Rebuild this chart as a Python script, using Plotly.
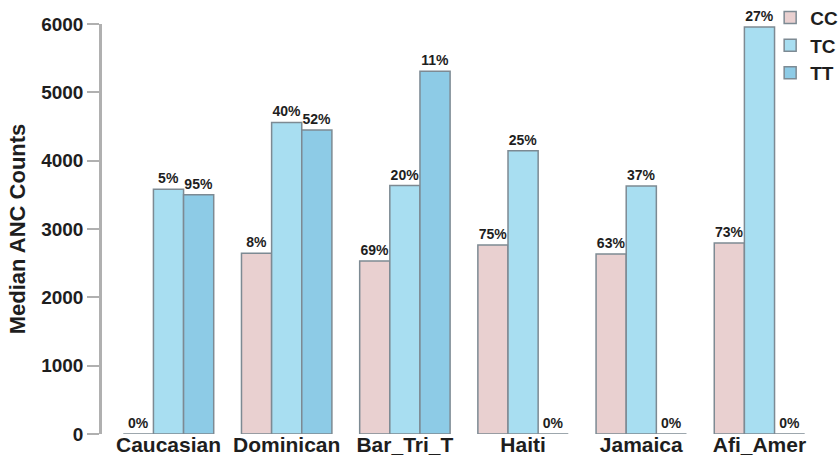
import plotly.graph_objects as go

categories = ["Caucasian", "Dominican", "Bar_Tri_T", "Haiti", "Jamaica", "Afi_Amer"]
genotypes = ["CC", "TC", "TT"]
cc_values = [0, 2645, 2530, 2765, 2635, 2795]
tc_values = [3580, 4560, 3635, 4145, 3630, 5955]
tt_values = [3500, 4450, 5310, 0, 0, 0]
cc_pct = ["0%", "8%", "69%", "75%", "63%", "73%"]
tc_pct = ["5%", "40%", "20%", "25%", "37%", "27%"]
tt_pct = ["95%", "52%", "11%", "0%", "0%", "0%"]
y_ticks = [0, 1000, 2000, 3000, 4000, 5000, 6000]

colors = {"CC": "#e9d0d0", "TC": "#a8def1", "TT": "#8dcbe6"}
series = {"CC": (cc_values, cc_pct), "TC": (tc_values, tc_pct), "TT": (tt_values, tt_pct)}
FONT = "Liberation Sans, Arial"
INK = "#1e1e1e"

fig = go.Figure()
for g in genotypes:
    vals, pct = series[g]
    fig.add_trace(go.Bar(
        x=categories, y=vals, name=g, text=pct,
        textposition="outside", constraintext="none", cliponaxis=False,
        textfont=dict(family=FONT, size=14, color=INK, weight="bold"),
        marker=dict(color=colors[g], line=dict(color="#7d8a93", width=1.5)),
    ))

fig.update_layout(
    width=855, height=459,
    margin=dict(l=102, r=33, t=24, b=25, autoexpand=False),
    paper_bgcolor="white", plot_bgcolor="white",
    barmode="group", bargap=0.235, bargroupgap=0,
    font=dict(family=FONT, color=INK),
    showlegend=True,
    legend=dict(x=0.928, y=1.062, xanchor="left", yanchor="top",
                font=dict(family=FONT, size=19, color=INK, weight="bold"),
                bgcolor="rgba(0,0,0,0)", tracegroupgap=0, itemwidth=30),
    xaxis=dict(showline=False, showgrid=False, ticks="", automargin=False,
               range=[-0.5626, 5.529], ticklabelstandoff=-4,
               tickfont=dict(family=FONT, size=21, color=INK, weight="bold")),
    yaxis=dict(range=[0, 6000], tickvals=y_ticks, showgrid=False, zeroline=False,
               automargin=False,
               showline=True, linecolor="#b0b0b0", linewidth=2.5,
               ticks="outside", ticklen=12, tickwidth=2, tickcolor="#b0b0b0",
               tickfont=dict(family=FONT, size=19, color=INK, weight="bold"),
               title=dict(text="Median ANC Counts",
                          font=dict(family=FONT, size=22, color=INK, weight="bold"), standoff=10)),
)

fig.write_html(
    "out.html",
    config={"displayModeBar": False},
    post_script="document.body.style.margin='0';document.body.style.overflow='hidden';"
                "document.documentElement.style.overflow='hidden';",
)
